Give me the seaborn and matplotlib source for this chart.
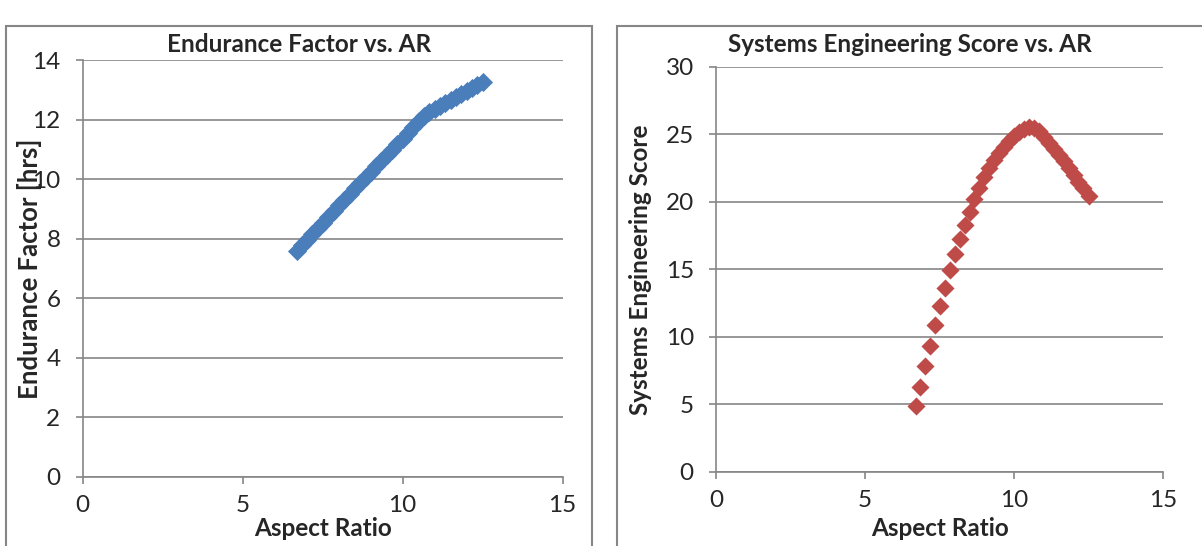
import matplotlib
matplotlib.use("Agg")
import matplotlib.pyplot as plt
import seaborn as sns
import pandas as pd
from matplotlib.patches import Rectangle

# aspect ratio sweep
aspect_ratio = [6.70, 6.86, 7.02, 7.18, 7.35, 7.51, 7.68, 7.85, 8.02, 8.18,
                8.35, 8.51, 8.67, 8.84, 9.00, 9.17, 9.33, 9.50, 9.66, 9.83,
                10.00, 10.16, 10.33, 10.50, 10.66, 10.83, 11.00, 11.16, 11.33, 11.50,
                11.66, 11.83, 12.00, 12.16, 12.33, 12.50]

endurance = [7.60, 7.79, 7.97, 8.16, 8.36, 8.55, 8.74, 8.94, 9.13, 9.32,
             9.51, 9.70, 9.88, 10.07, 10.25, 10.44, 10.62, 10.81, 10.99, 11.18,
             11.37, 11.56, 11.76, 11.97, 12.14, 12.28, 12.38, 12.48, 12.58, 12.68,
             12.77, 12.87, 12.97, 13.06, 13.16, 13.26]

se_score = [4.84, 6.27, 7.85, 9.33, 10.84, 12.25, 13.60, 14.94, 16.15, 17.24,
            18.30, 19.28, 20.20, 21.06, 21.83, 22.50, 23.10, 23.60, 24.05, 24.50,
            24.85, 25.15, 25.40, 25.55, 25.50, 25.25, 24.80, 24.35, 23.90, 23.45,
            23.00, 22.50, 22.00, 21.50, 21.00, 20.40]

df = pd.DataFrame({"AR": aspect_ratio, "Endurance": endurance, "SE": se_score})

sns.set_theme(style="white")
plt.rcParams["font.family"] = ["Lato", "DejaVu Sans"]

GRID = "#868686"
fig = plt.figure(figsize=(12.02, 5.46), dpi=100)

# chart-area borders like the Excel originals
fig.patches.append(Rectangle((6, -20), 586, 540, transform=None, fill=False,
                             edgecolor=GRID, linewidth=1.5))
fig.patches.append(Rectangle((617, -20), 620, 540, transform=None, fill=False,
                             edgecolor=GRID, linewidth=1.5))

ax1 = fig.add_axes([0.0688, 0.1269, 0.3993, 0.7623])
ax2 = fig.add_axes([0.5957, 0.1364, 0.3719, 0.7409])

sns.scatterplot(data=df, x="AR", y="Endurance", ax=ax1, marker="D", s=95,
                color="#4A7EBB", linewidth=0, zorder=3)
sns.scatterplot(data=df, x="AR", y="SE", ax=ax2, marker="D", s=85,
                color="#BE4B48", linewidth=0, zorder=3)

setup = [
    (ax1, 14, 2, "Endurance Factor vs. AR", "Endurance Factor [hrs]",
     (0.4506, 1.0385), -0.111, -0.125, 18.5),
    (ax2, 30, 5, "Systems Engineering Score vs. AR", "Systems Engineering Score",
     (0.433, 1.056), -0.168, -0.142, 17.5),
]
for ax, ymax, ystep, title, ylab, tpos, ylx, xly, ylsize in setup:
    ax.set_xlim(0, 15)
    ax.set_ylim(0, ymax)
    ax.set_xticks([0, 5, 10, 15])
    ax.set_yticks(list(range(0, ymax + 1, ystep)))
    ax.grid(axis="y", color=GRID, linewidth=1.2)
    ax.set_axisbelow(True)
    for side in ["top", "right"]:
        ax.spines[side].set_visible(False)
    for side in ["left", "bottom"]:
        ax.spines[side].set_color(GRID)
        ax.spines[side].set_linewidth(1.2)
    ax.tick_params(axis="x", direction="out", length=5, width=1.2, color=GRID,
                   labelsize=17.5, pad=8, bottom=True)
    ax.tick_params(axis="y", direction="out", length=5, width=1.2, color=GRID,
                   labelsize=17.5, pad=11, left=True)
    ax.set_xlabel("Aspect Ratio", fontsize=17.5, fontweight="bold", va="center")
    ax.xaxis.set_label_coords(0.5, xly)
    ax.set_ylabel(ylab, fontsize=ylsize, fontweight="bold", va="center")
    ax.yaxis.set_label_coords(ylx, 0.5)
    ax.text(tpos[0], tpos[1], title, transform=ax.transAxes, ha="center",
            va="center", fontsize=17.5, fontweight="bold")

fig.savefig("out.png", dpi=100)
